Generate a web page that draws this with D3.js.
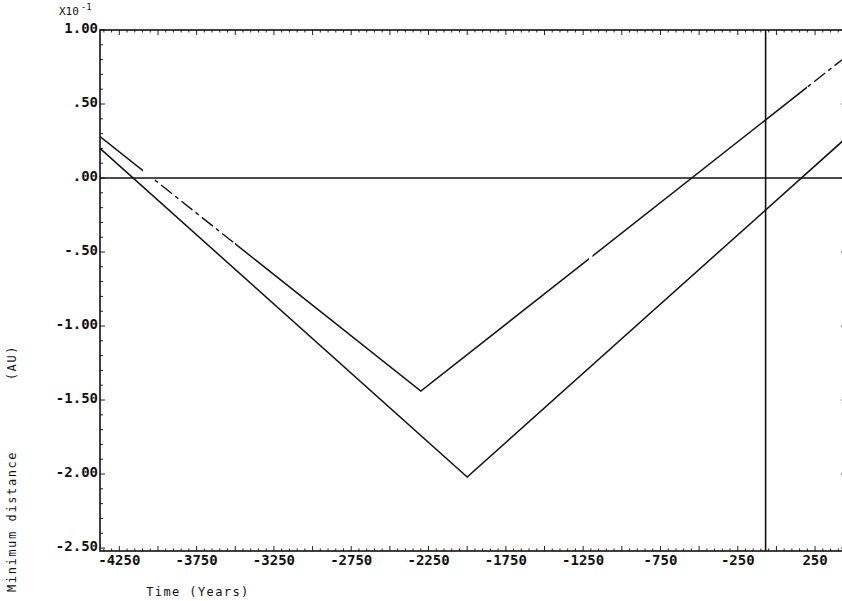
<!DOCTYPE html>
<html><head><meta charset="utf-8">
<script src="https://cdn.jsdelivr.net/npm/d3@7"></script>
<style>
html,body{margin:0;padding:0;background:#fff;}
svg{display:block;}
text{font-family:"DejaVu Sans Mono",monospace;fill:#111;}
</style></head>
<body>
<script>
// ---- data (minimum distance in units of 1e-1 AU vs time in years) ----
const seriesAYears  = [-4375, -2300, 450];
const seriesAValues = [0.28, -1.44, 0.82];
const seriesBYears  = [-4375, -2000, 450];
const seriesBValues = [0.20, -2.02, 0.27];
const markerYear = -70;        // vertical reference line
const zeroValue = 0;           // horizontal reference line
const xTickLabels = [-4250, -3750, -3250, -2750, -2250, -1750, -1250, -750, -250, 250];
const yTickLabels = [1.00, 0.50, 0.00, -0.50, -1.00, -1.50, -2.00, -2.50];
// spans (years) of series A where the plotted trace is broken / dashed
const seriesAGaps = [[-4097, -4039], [-1212, -1190]];
const seriesADashed = [[-4039, -3502], [198, 450]];

const W = 842, H = 601;
const x = d3.scaleLinear().domain([-4375, 450]).range([100, 846]);
const y = d3.scaleLinear().domain([-2.52, 1.0]).range([551, 30]);

const svg = d3.select("body").append("svg").attr("width", W).attr("height", H);

const fmtY = v => {
  let s = Math.abs(v).toFixed(2);
  if (Math.abs(v) < 1) s = s.replace(/^0/, "");
  return (v < 0 ? "-" : "") + s;
};

// ---- ticks ----
const tickG = svg.append("g").attr("stroke", "#222").attr("stroke-width", 1);
const xMinor = d3.range(-4350, 450, 50);
xMinor.forEach(t => {
  const major = (t + 4250) % 250 === 0;
  const len = major ? 5 : 2.5;
  tickG.append("line").attr("x1", x(t)).attr("x2", x(t)).attr("y1", y.range()[0]).attr("y2", y.range()[0] - len);
  tickG.append("line").attr("x1", x(t)).attr("x2", x(t)).attr("y1", y.range()[1]).attr("y2", y.range()[1] + len);
});
const yMinor = d3.range(-25, 11, 1).map(v => v / 10);
yMinor.forEach(v => {
  const major = Math.abs(Math.round(v * 10)) % 5 === 0;
  const len = major ? 5 : 3;
  tickG.append("line").attr("x1", x.range()[0]).attr("x2", x.range()[0] + len).attr("y1", y(v)).attr("y2", y(v));
  tickG.append("line").attr("x1", x.range()[1]).attr("x2", x.range()[1] - len).attr("y1", y(v)).attr("y2", y(v));
});

// ---- frame ----
svg.append("rect")
  .attr("x", x.range()[0]).attr("y", y.range()[1])
  .attr("width", x.range()[1] - x.range()[0]).attr("height", y.range()[0] - y.range()[1])
  .attr("fill", "none").attr("stroke", "#111").attr("stroke-width", 1.6);

// ---- reference lines ----
svg.append("line").attr("x1", x.range()[0]).attr("x2", x.range()[1])
  .attr("y1", y(zeroValue)).attr("y2", y(zeroValue)).attr("stroke", "#111").attr("stroke-width", 1.4);
svg.append("line").attr("x1", x(markerYear)).attr("x2", x(markerYear))
  .attr("y1", y.range()[1]).attr("y2", y.range()[0]).attr("stroke", "#111").attr("stroke-width", 1.6);

// ---- series ----
const line = d3.line().x(d => x(d[0])).y(d => y(d[1]));
const dataA = seriesAYears.map((t, i) => [t, seriesAValues[i]]);
const dataB = seriesBYears.map((t, i) => [t, seriesBValues[i]]);

const defs = svg.append("defs");
const excluded = seriesAGaps.concat(seriesADashed).sort((a, b) => a[0] - b[0]);
const solidSpans = [];
let cur = x.domain()[0];
excluded.forEach(([a, b]) => { if (a > cur) solidSpans.push([cur, a]); cur = Math.max(cur, b); });
if (cur < x.domain()[1]) solidSpans.push([cur, x.domain()[1]]);
const mkClip = (id, spans) => {
  const cp = defs.append("clipPath").attr("id", id);
  spans.forEach(([a, b]) => cp.append("rect").attr("x", x(a)).attr("y", 0).attr("width", x(b) - x(a)).attr("height", H));
};
mkClip("solidA", solidSpans);
mkClip("dashA", seriesADashed);

svg.append("path").datum(dataA).attr("d", line).attr("fill", "none")
  .attr("stroke", "#111").attr("stroke-width", 1.5).attr("clip-path", "url(#solidA)");
svg.append("path").datum(dataA).attr("d", line).attr("fill", "none")
  .attr("stroke", "#111").attr("stroke-width", 1.4).attr("stroke-dasharray", "14,4,4,4")
  .attr("clip-path", "url(#dashA)");
svg.append("path").datum(dataB).attr("d", line).attr("fill", "none")
  .attr("stroke", "#111").attr("stroke-width", 1.5);

// ---- tick labels ----
svg.append("g").selectAll("text").data(xTickLabels).join("text")
  .attr("x", d => x(d)).attr("y", 565).attr("text-anchor", "middle")
  .attr("font-size", 14).attr("font-weight", "bold").text(d => d);
svg.append("g").selectAll("text").data(yTickLabels).join("text")
  .attr("x", 98).attr("y", d => y(d) + 3).attr("text-anchor", "end")
  .attr("font-size", 14).attr("font-weight", "bold").text(d => fmtY(d));

// exponent label
const ex = svg.append("text").attr("x", 59).attr("y", 15).attr("font-size", 11);
ex.append("tspan").text("X10");
ex.append("tspan").attr("dy", -5).attr("dx", 2).attr("font-size", 9).text("-1");

// ---- axis titles ----
svg.append("text").attr("x", 198).attr("y", 596).attr("text-anchor", "middle")
  .attr("font-size", 12).attr("letter-spacing", 1.4).text("Time (Years)");
svg.append("text").attr("transform", "translate(16,592) rotate(-90)")
  .attr("font-size", 12).attr("letter-spacing", 1.6).style("white-space", "pre")
  .text("Minimum distance        (AU)");
</script>
</body></html>
